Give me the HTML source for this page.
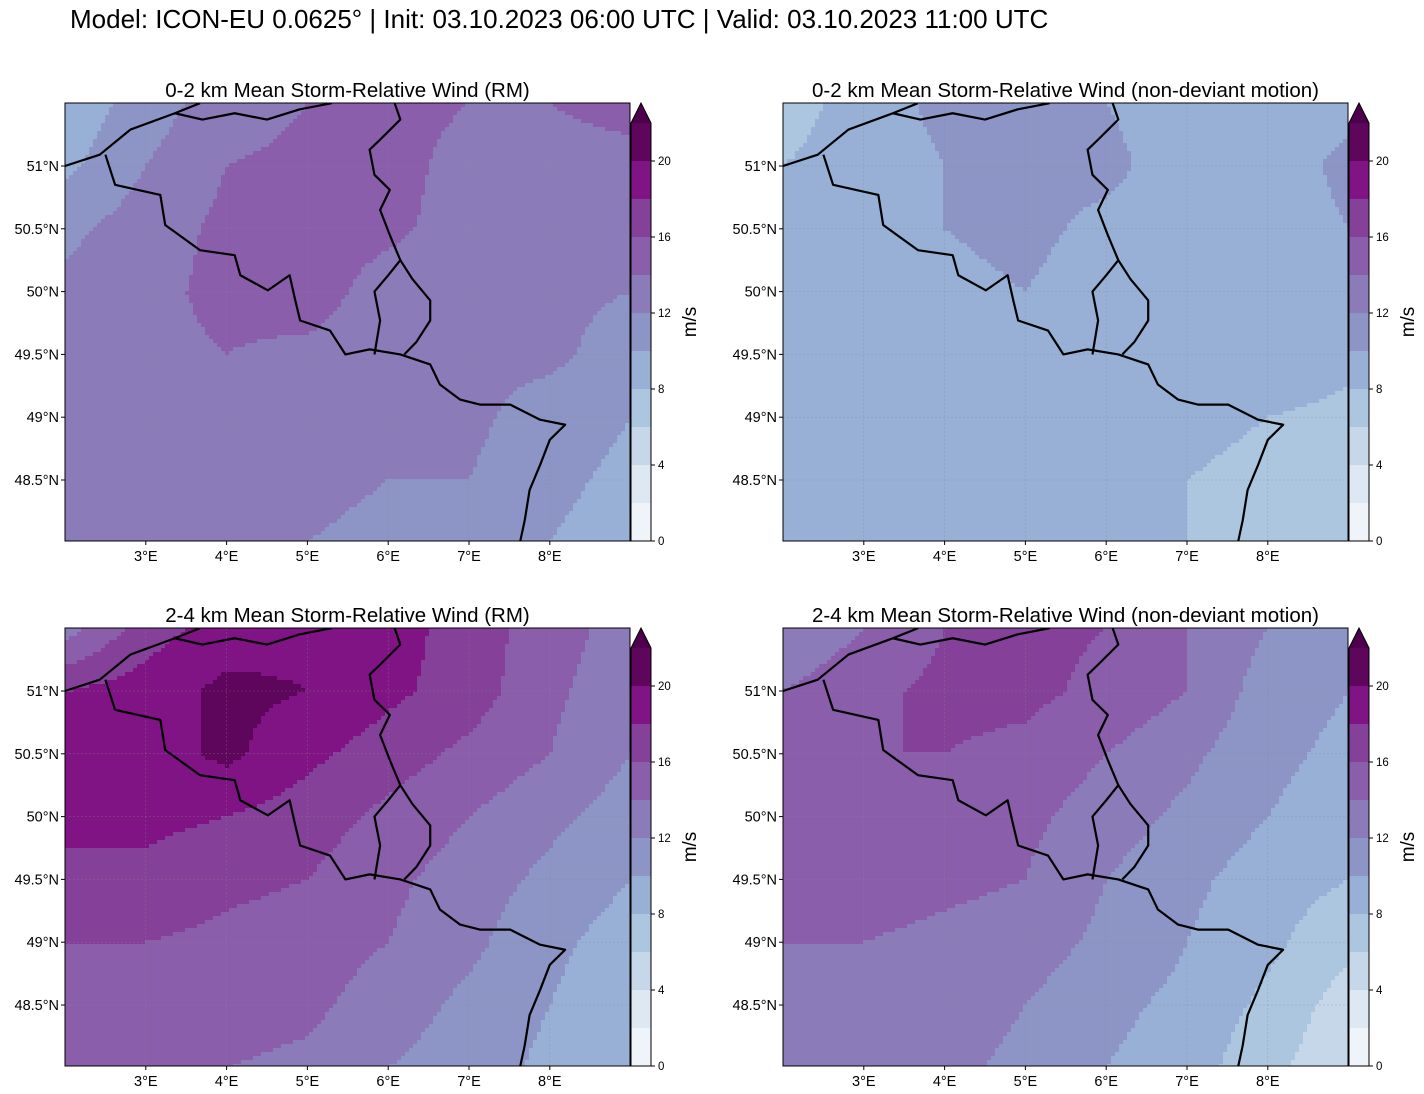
<!DOCTYPE html>
<html><head><meta charset="utf-8">
<style>
body{margin:0;background:#fff;font-family:"Liberation Sans","DejaVu Sans",sans-serif;}
#wrap{position:relative;width:1424px;height:1094px;overflow:hidden;}
.t{position:absolute;white-space:nowrap;color:#000;}
</style></head>
<body><div id="wrap">
<div class="t" style="left:70px;top:4px;font-size:26px;">Model: ICON-EU 0.0625° | Init: 03.10.2023 06:00 UTC | Valid: 03.10.2023 11:00 UTC</div>
<svg id="svg" width="1424" height="1094" style="position:absolute;left:0;top:0"></svg>
</div>
<script>
// ---- data ----
const levels=[0,2,4,6,8,10,12,14,16,18,20,22];
const cbTicks=[0,4,8,12,16,20];
const lonTicks=[3,4,5,6,7,8];
const latTicks=[51,50.5,50,49.5,49,48.5];
const gridLons=[2,3,4,5,6,7,8,9];
const gridLats=[51.5,51,50.5,50,49.5,49,48.5,48];
const titles=["0-2 km Mean Storm-Relative Wind (RM)","0-2 km Mean Storm-Relative Wind (non-deviant motion)","2-4 km Mean Storm-Relative Wind (RM)","2-4 km Mean Storm-Relative Wind (non-deviant motion)"];
const field1=[[8.5,11,13,14,15,14,14,15],[9.5,12,14,14.5,15,13,13,13],[11.5,13,14.5,15,14.5,13,13,12.5],[12.5,13.5,14.5,15,13,12.5,12.5,12],[13,13.5,14,13.5,13,12.5,12.5,11],[13,13,13,13,12.5,12.5,11,10],[13,13,12.5,12.5,12,12,10.5,9.5],[12.5,12.5,12,12,11.5,11,10,9]];
const field2=[[7,9,10.5,10.5,10,9,9,9.5],[8,9,10,10.5,10.5,9,9,10.5],[9,9.5,10,10.5,9.5,9,9,10],[9,9.5,9.5,10,9,9,9.5,9],[9,10,9,9,9,9,9.5,8.5],[9,9,9,9,9,8.5,8,7.5],[9,9,8.5,9,8.5,8,7.5,7],[9,9,9,9,8.5,8,7,6]];
const field3=[[13,17,19,19.5,19,17,15,13],[18,19,20.5,20,18.5,17,14.5,12.5],[18.5,19,20.5,18.5,17,15.5,14,12],[18.5,18.5,18,17,15.5,14,12.5,11],[17.5,17.5,16.5,16,14.5,13,11.5,10],[16,16,15.5,15,14,12.5,10.5,9],[15,15,15,14.5,13,11.5,10,8.5],[14.5,14.5,14,13.5,12,11,9.5,8.5]];
const field4=[[12,14,16,16.5,16,14,12,10],[14,15.5,16.5,16.5,15.5,14,11,10],[15,16,16,15.5,14,12.5,10.5,9.5],[15,16,15.5,14.5,13,11.5,10,9],[14.5,15,14.5,14,12,10.5,9,8],[14,14,13.5,13,11.5,10,8.5,6.5],[13.5,13.5,13,12,10.5,9.5,7.5,5],[13,13,12.5,11.5,10,9,6.5,4.5]];
const fields=[field1,field2,field3,field4];
// borders in lon/lat
const coast=[[2,51.0],[2.43,51.09],[2.81,51.29],[3.36,51.42],[3.67,51.5]];
const frBe=[[2.5,51.09],[2.62,50.85],[3.18,50.77],[3.24,50.53],[3.67,50.33],[4.1,50.29],[4.17,50.13],[4.51,50.01],[4.78,50.13],[4.85,49.93],[4.91,49.77],[5.28,49.69],[5.47,49.5],[5.77,49.54],[6.15,49.5],[6.52,49.42],[6.64,49.26],[6.89,49.14],[7.14,49.1],[7.51,49.1],[7.88,48.98],[8.19,48.94],[8.0,48.82],[7.88,48.62],[7.75,48.42],[7.69,48.18],[7.63,48.0]];
const beNl=[[3.36,51.42],[3.7,51.37],[4.1,51.42],[4.5,51.37],[4.9,51.45],[5.3,51.5]];
const nlDe=[[6.08,51.5],[6.15,51.37],[5.9,51.21],[5.77,51.13],[5.83,50.93],[6.02,50.81],[5.9,50.65],[6.02,50.45],[6.15,50.25],[6.0,50.13],[5.83,50.0],[5.9,49.77],[5.83,49.5]];
const luxDe=[[6.15,50.25],[6.3,50.1],[6.52,49.93],[6.52,49.77],[6.35,49.6],[6.2,49.5]];
const borders=[coast,frBe,beNl,nlDe,luxDe];

const colors=["#eef4f9","#dde8f2","#c6d7e9","#adc6e0","#98b0d6","#8c95c6","#8c7bb9","#8a5eaa","#85409a","#811485","#5e055c"];
const extColor="#4d004b";
const NS="http://www.w3.org/2000/svg";
const svg=document.getElementById('svg');
function mk(tag,attrs,parent){const e=document.createElementNS(NS,tag);for(const k in attrs)e.setAttribute(k,attrs[k]);(parent||svg).appendChild(e);return e;}
function colorFor(v){let i=Math.floor(v/2);if(i<0)i=0;if(i>10)return extColor;return colors[i];}
const panels=[[65,103],[783,103],[65,628],[783,628]];
const MW=565,MH=438;
panels.forEach((p,pi)=>{
  const [x0,y0]=p;
  const X=lon=>x0+(lon-2)*80.8;
  const Y=lat=>y0+63+(51-lat)*125.6;
  const g=mk('g',{});
  
  
  const clipId='clip'+pi;
  const cp=mk('clipPath',{id:clipId},g);mk('rect',{x:x0,y:y0,width:MW,height:MH},cp);
  const fg=mk('g',{'clip-path':'url(#'+clipId+')'},g);
  const F=fields[pi];
  const step=4;
  for(let py=0;py<MH;py+=step){for(let px=0;px<MW;px+=step){
    const lon=2+(px+step/2)/80.8, lat=51-(py+step/2-63)/125.6;
    let fx=(lon-gridLons[0])/(gridLons[1]-gridLons[0]), fy=(gridLats[0]-lat)/(gridLats[0]-gridLats[1]);
    fx=Math.max(0,Math.min(gridLons.length-1.001,fx));fy=Math.max(0,Math.min(gridLats.length-1.001,fy));
    const i=Math.floor(fx),j=Math.floor(fy),a=fx-i,b=fy-j;
    const v=F[j][i]*(1-a)*(1-b)+F[j][i+1]*a*(1-b)+F[j+1][i]*(1-a)*b+F[j+1][i+1]*a*b;
    mk('rect',{x:x0+px,y:y0+py,width:step+0.5,height:step+0.5,fill:colorFor(v)},fg);
  }}
  lonTicks.forEach(l=>mk('line',{x1:X(l),x2:X(l),y1:y0,y2:y0+MH,stroke:'#888','stroke-width':0.5,'stroke-dasharray':'2,2',opacity:0.6},fg));
  latTicks.forEach(l=>mk('line',{x1:x0,x2:x0+MW,y1:Y(l),y2:Y(l),stroke:'#888','stroke-width':0.5,'stroke-dasharray':'2,2',opacity:0.6},fg));
  borders.forEach((bd,bi)=>{
    const pl=mk('polyline',{points:bd.map(q=>X(q[0])+','+Y(q[1])).join(' '),fill:'none',stroke:'#000','stroke-width':2.2,'stroke-linejoin':'round'},fg);
    
    
  });
  mk('rect',{x:x0,y:y0,width:MW,height:MH,fill:'none',stroke:'#000','stroke-width':1},g);
  const tt=mk('text',{x:x0+MW/2,y:y0-6,'text-anchor':'middle','font-size':20.5},g);tt.textContent=titles[pi];
  
  
  lonTicks.forEach(l=>{mk('line',{x1:X(l),x2:X(l),y1:y0+MH,y2:y0+MH+4,stroke:'#000'},g);
    const t=mk('text',{x:X(l),y:y0+MH+20,'text-anchor':'middle','font-size':14.5},g);t.textContent=l+'°E';});
  latTicks.forEach(l=>{mk('line',{x1:x0-4,x2:x0,y1:Y(l),y2:Y(l),stroke:'#000'},g);
    const t=mk('text',{x:x0-6,y:Y(l)+5,'text-anchor':'end','font-size':14.5},g);t.textContent=l+'°N';});
  // colorbar
  const cx=x0+MW+1,cw=20,cb0=y0+MH,cpx=19;
  const cbg=mk('g',{},g);
  
  
  for(let k=0;k<colors.length;k++){mk('rect',{x:cx,y:cb0-(levels[k+1])*cpx,width:cw,height:2*cpx,fill:colors[k]},cbg);}
  const top=cb0-22*cpx;
  mk('polygon',{points:`${cx},${top} ${cx+cw},${top} ${cx+cw/2},${y0}`,fill:extColor},cbg);
  mk('polygon',{points:`${cx},${cb0} ${cx},${top} ${cx+cw/2},${y0} ${cx+cw},${top} ${cx+cw},${cb0}`,fill:'none',stroke:'#000','stroke-width':1},cbg);
  cbTicks.forEach(v=>{const yy=cb0-v*cpx;mk('line',{x1:cx+cw,x2:cx+cw+4,y1:yy,y2:yy,stroke:'#000'},cbg);
    const t=mk('text',{x:cx+cw+7,y:yy+4,'font-size':11.5},cbg);t.textContent=v;});
  const ul=mk('text',{x:0,y:0,'font-size':19,'text-anchor':'middle',transform:`translate(${cx+cw+45},${y0+MH/2}) rotate(-90)`},cbg);ul.textContent='m/s';
});
</script></body></html>
